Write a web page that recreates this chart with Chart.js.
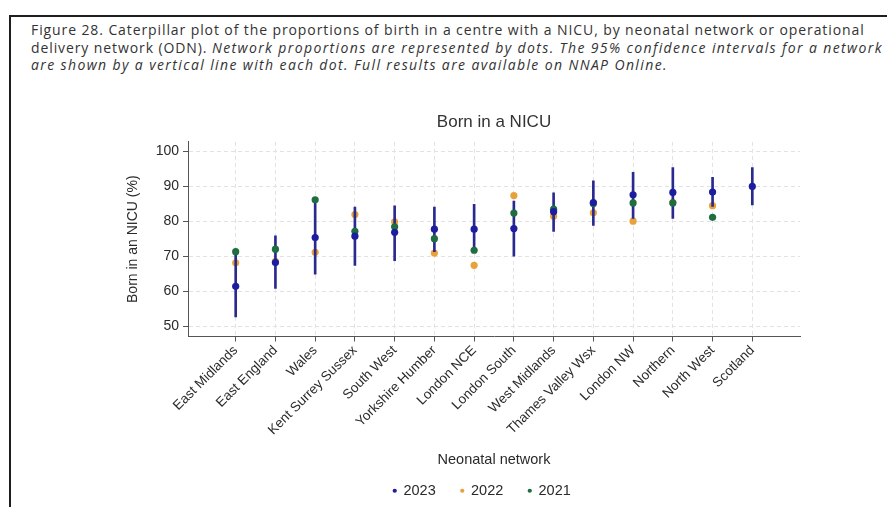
<!DOCTYPE html>
<html>
<head>
<meta charset="utf-8">
<script src="https://cdn.jsdelivr.net/npm/chart.js@4.4.0/dist/chart.umd.min.js"></script>
<style>
  html, body { margin: 0; padding: 0; background: #fff; width: 887px; height: 507px; overflow: hidden; }
  #frame { position: absolute; left: 9px; top: 15px; width: 900px; height: 600px; border: 2px solid #1e1e1e; }
  #caption { position: absolute; left: 31px; top: 21px; font-family: 'Open Sans', sans-serif; font-size: 14px;
             line-height: 17.7px; color: #333; white-space: nowrap; letter-spacing: 0.9px; }
  #caption i { letter-spacing: 1.38px; }
  #wrap { position: absolute; left: 0; top: 96px; width: 887px; height: 440px; }
</style>
</head>
<body>
<div id="frame"></div>
<div id="caption">Figure 28. Caterpillar plot of the proportions of birth in a centre with a NICU, by neonatal network or operational<br>delivery network (ODN). <i>Network proportions are represented by dots. The 95% confidence intervals for a network</i><br><i>are shown by a vertical line with each dot. Full results are available on NNAP Online.</i></div>
<div id="wrap"><canvas id="nicuChart"></canvas></div>

<script>
// --- données ---
const networks = ['East Midlands', 'East England', 'Wales', 'Kent Surrey Sussex', 'South West',
  'Yorkshire Humber', 'London NCE', 'London South', 'West Midlands', 'Thames Valley Wsx',
  'London NW', 'Northern', 'North West', 'Scotland'];

const born2023 = [61.4, 68.2, 75.3, 75.7, 76.8, 77.7, 77.7, 77.9, 82.7, 85.3, 87.5, 88.2, 88.3, 89.9];
const born2022 = [68.1, 68.5, 71.1, 81.9, 79.8, 70.9, 67.4, 87.3, 81.4, 82.4, 80.0, 85.3, 84.4, null];
const born2021 = [71.3, 72.0, 86.1, 77.1, 78.4, 75.0, 71.7, 82.3, 83.4, 85.0, 85.2, 85.2, 81.1, null];

// intervalle de confiance 95% (2023)
const ciLow  = [52.7, 60.8, 64.9, 67.4, 68.7, 71.3, 71.0, 70.0, 77.1, 78.8, 80.8, 80.8, 84.2, 84.6];
const ciHigh = [71.2, 75.8, 86.0, 84.0, 84.4, 84.0, 84.8, 85.7, 88.1, 91.5, 93.9, 95.3, 92.5, 95.3];

const yTicks = [50, 60, 70, 80, 90, 100];

document.addEventListener('DOMContentLoaded', function() {

  const txt = '#2a2a2a';
  const font = 'Liberation Sans, Arial, sans-serif';

  const toPoints = arr => arr.map((v, i) => ({ x: i, y: v })).filter(p => p.y !== null);

  const dotDataset = (label, values, color, order) => ({
    type: 'scatter',
    label: label,
    data: toPoints(values),
    backgroundColor: color,
    borderColor: color,
    borderWidth: 0,
    pointRadius: 3.6,
    pointBorderWidth: 0,
    pointStyle: 'circle',
    order: order
  });

  // petit décalage de la légende (elle n'est pas tout à fait centrée sur la figure)
  const legendNudge = {
    id: 'legendNudge',
    afterLayout(chart) {
      const lg = chart.legend;
      lg.left -= 12; lg.right -= 12;
      lg.top -= 14; lg.bottom -= 14;
    }
  };

  new Chart(document.getElementById('nicuChart'), {
    type: 'scatter',
    data: {
      datasets: [
        dotDataset('2023', born2023, '#1d1da0', 1),
        dotDataset('2022', born2022, '#e9a23b', 4),
        dotDataset('2021', born2021, '#1f6e3f', 2),
        {
          type: 'bar',
          label: '',
          data: networks.map((n, i) => ({ x: i, y: [ciLow[i], ciHigh[i]] })),
          backgroundColor: '#2a2a8e',
          borderWidth: 0,
          barThickness: 2,
          grouped: false,
          order: 3
        }
      ]
    },
    options: {
      responsive: true,
      maintainAspectRatio: false,
      animation: false,
      layout: { padding: { left: 115, right: 87, top: 0, bottom: 14 } },
      plugins: {
        tooltip: { enabled: false },
        title: {
          display: true,
          text: 'Born in a NICU',
          fullSize: false,
          color: '#333',
          font: { family: font, size: 17, weight: 'normal' },
          padding: { top: 16.5, bottom: 9 }
        },
        legend: {
          position: 'bottom',
          fullSize: false,
          labels: {
            usePointStyle: true,
            boxWidth: 3,
            boxHeight: 3,
            padding: 25,
            color: txt,
            font: { family: font, size: 14.5 },
            filter: item => item.datasetIndex < 3,
            sort: (a, b) => a.datasetIndex - b.datasetIndex
          }
        }
      },
      scales: {
        x: {
          type: 'linear',
          min: -1.2,
          max: 14.2,
          offset: false,
          afterBuildTicks: s => { s.ticks = networks.map((n, i) => ({ value: i })); },
          afterFit: s => { s.height = 136; },
          ticks: {
            autoSkip: false,
            minRotation: 45,
            maxRotation: 45,
            padding: 1,
            color: txt,
            font: { family: font, size: 13.5 },
            callback: v => networks[v]
          },
          grid: { offset: false, color: '#e2e2e2', tickLength: 5, tickColor: '#555', tickBorderDash: [] },
          border: { color: '#555', width: 1, dash: [4, 3] },
          title: {
            display: true,
            text: 'Neonatal network',
            color: txt,
            font: { family: font, size: 14.5 },
            padding: { top: 0, bottom: 3.6 }
          }
        },
        y: {
          min: 47.1,
          max: 102.6,
          beginAtZero: false,
          afterBuildTicks: s => { s.ticks = yTicks.map(v => ({ value: v })); },
          afterFit: s => { s.width = 73; },
          ticks: { padding: 4, color: txt, font: { family: font, size: 14 } },
          grid: { color: '#e2e2e2', tickLength: 5, tickColor: '#555', tickBorderDash: [] },
          border: { color: '#555', width: 1, dash: [4, 3] },
          title: {
            display: true,
            text: 'Born in an NICU (%)',
            color: txt,
            font: { family: font, size: 14 },
            padding: { top: 10, bottom: 0 }
          }
        }
      }
    },
    plugins: [legendNudge]
  });
});
</script>
</body>
</html>
